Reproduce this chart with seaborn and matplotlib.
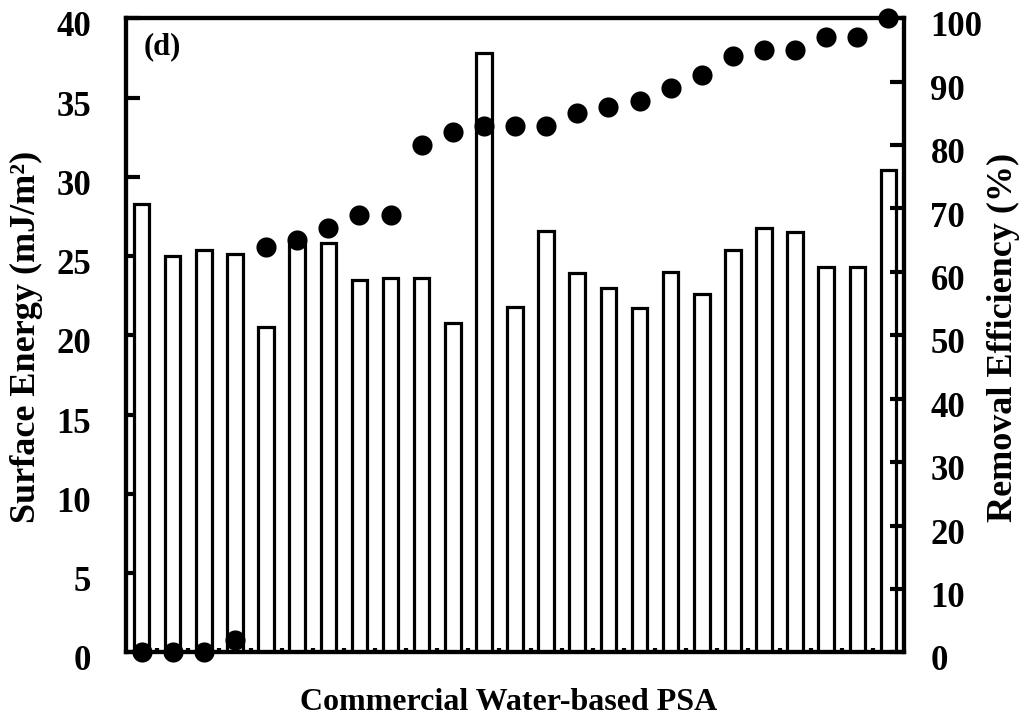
import numpy as np
import pandas as pd
import matplotlib
matplotlib.use("Agg")
import matplotlib.pyplot as plt
import matplotlib.transforms as mtransforms
import seaborn as sns

# Surface energy (mJ/m^2) and removal efficiency (%) of 25 commercial water-based PSAs
samples = [f"PSA-{i}" for i in range(1, 26)]
surface_energy = [28.3, 25.0, 25.4, 25.1, 20.5, 25.7, 25.8, 23.5, 23.6, 23.6,
                  20.8, 37.8, 21.8, 26.6, 23.9, 23.0, 21.7, 24.0, 22.6, 25.4,
                  26.8, 26.5, 24.3, 24.3, 30.4]
removal_efficiency = [0, 0, 0, 2, 64, 65, 67, 69, 69, 80, 82, 83, 83, 83, 85,
                      86, 87, 89, 91, 94, 95, 95, 97, 97, 100]
left_ticks = [0, 5, 10, 15, 20, 25, 30, 35, 40]
right_ticks = [0, 10, 20, 30, 40, 50, 60, 70, 80, 90, 100]

sns.set_style("ticks", {"text.color": "black", "axes.labelcolor": "black",
                        "xtick.color": "black", "ytick.color": "black",
                        "axes.edgecolor": "black"})
plt.rcParams["font.family"] = ["Liberation Serif", "DejaVu Serif"]
plt.rcParams["font.weight"] = "bold"
plt.rcParams["axes.labelweight"] = "bold"

df = pd.DataFrame({"sample": samples,
                   "energy": surface_energy,
                   "removal": removal_efficiency})
df["pos"] = np.arange(len(df))

fig = plt.figure(figsize=(10.28, 7.26), dpi=100)
ax = fig.add_axes([0.1226, 0.1015, 0.7568, 0.8733])

sns.barplot(data=df, x="sample", y="energy", ax=ax, color="white",
            edgecolor="black", linewidth=2.3, width=0.5, saturation=1)
ax.set_xlim(-0.5, len(df) - 0.5)
ax.set_ylim(0, 40)
ax.set_yticks(left_ticks)
ax.set_xticks(np.arange(0.5, len(df) - 0.5, 1.0))
ax.set_xticklabels([])
ax.tick_params(axis="x", direction="in", length=3, width=3, bottom=True, top=False,
               color="black")
ax.tick_params(axis="y", direction="in", length=10, width=3, labelsize=25, pad=25,
               color="black", labelcolor="black")
ax.set_ylabel("Surface Energy (mJ/m²)", fontsize=26, fontweight="bold", color="black")
ax.yaxis.set_label_coords(-0.107, 0.497)
ax.set_xlabel("Commercial Water-based PSA", fontsize=23, fontweight="bold", color="black")
ax.xaxis.set_label_coords(0.492, -0.056)

ax2 = ax.twinx()
sns.scatterplot(data=df, x="pos", y="removal", ax=ax2, color="black",
                s=210, edgecolor="black", linewidth=0, clip_on=False, zorder=5)
ax2.set_ylim(0, 100)
ax2.set_yticks(right_ticks)
ax2.tick_params(axis="y", direction="in", length=10, width=3, labelsize=25, pad=19,
                color="black", labelcolor="black")
ax2.set_ylabel("Removal Efficiency (%)", fontsize=26, fontweight="bold", color="black")
ax2.yaxis.set_label_coords(1.107, 0.497)

# tick labels sit slightly below their ticks
shift = mtransforms.ScaledTranslation(0, -4 / 72, fig.dpi_scale_trans)
for a in (ax, ax2):
    for lbl in a.get_yticklabels():
        lbl.set_fontweight("bold")
        lbl.set_transform(lbl.get_transform() + shift)
    for sp in a.spines.values():
        sp.set_visible(True)
        sp.set_linewidth(3)
        sp.set_color("black")

ax.text(0.022, 0.978, "(d)", transform=ax.transAxes, fontsize=22,
        fontweight="bold", va="top", ha="left", color="black")

fig.savefig("out.png", dpi=100)
